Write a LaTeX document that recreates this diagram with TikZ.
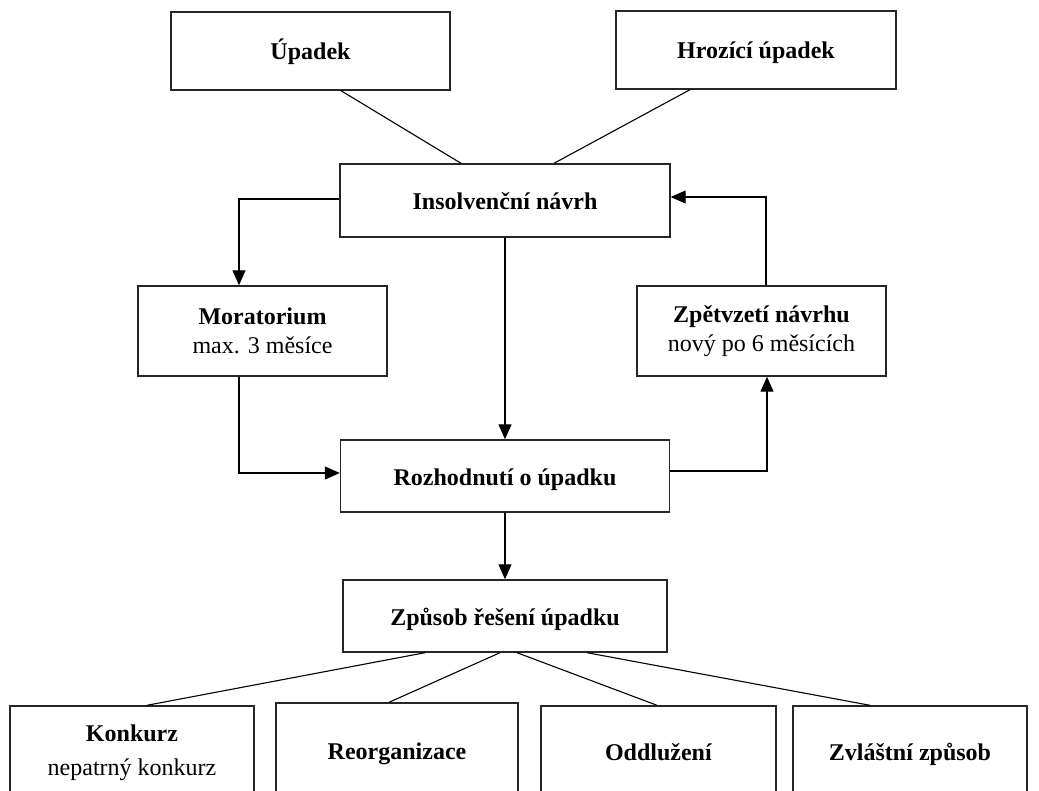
\documentclass[tikz,border=0pt]{standalone}
\usepackage{fontspec}
\setmainfont{Liberation Serif}
\usetikzlibrary{arrows.meta}
\begin{document}
\begin{tikzpicture}[x=1pt,y=-1pt,
  base/.style={draw=black!85, line width=1.4pt, inner sep=0pt, fill=white,
    font=\fontsize{24}{29}\selectfont},
  one/.style={base, text height=20pt, text depth=2pt},
  two/.style={base, align=center},
  conn/.style={draw=black, line width=1.1pt},
  arr/.style={conn, -{Triangle[length=15pt,width=13pt]}}]
\useasboundingbox (0,0) rectangle (1039,791);
\clip (0,0) rectangle (1039,791);
\fill[white] (0,0) rectangle (1039,791);

% boxes
\node[one, minimum width=279pt, minimum height=78pt] (upadek) at (310.5,51) {\textbf{Úpadek}};
\node[one, minimum width=280pt, minimum height=78pt] (hroz) at (756,50) {\textbf{Hrozící úpadek}};
\node[one, minimum width=330pt, minimum height=73pt] (ins) at (505,200.5) {\textbf{Insolvenční návrh}};
\node[two, minimum width=249pt, minimum height=90pt] (mor) at (262.5,331) {\textbf{Moratorium}\\max. 3 měsíce};
\node[two, minimum width=249pt, minimum height=90pt] (zpet) at (761.5,331) {\textbf{Zpětvzetí návrhu}\\nový po 6 měsících};
\node[one, minimum width=329pt, minimum height=72pt] (roz) at (505,476) {\textbf{Rozhodnutí o úpadku}};
\node[one, minimum width=324pt, minimum height=72pt] (zpus) at (505,616) {\textbf{Způsob řešení úpadku}};
\node[two, minimum width=244pt, minimum height=93pt, font=\fontsize{24}{34}\selectfont] (konk) at (132,752.5) {\textbf{Konkurz}\\nepatrný konkurz};
\node[one, minimum width=242pt, minimum height=94pt] (reorg) at (397,750) {\textbf{Reorganizace}};
\node[one, minimum width=235pt, minimum height=90pt] (oddl) at (658.5,751) {\textbf{Oddlužení}};
\node[one, minimum width=234pt, minimum height=90pt] (zvl) at (910,751) {\textbf{Zvláštní způsob}};

% connectors
\draw[conn] ([xshift=30.5pt]upadek.south) -- ([xshift=-44pt]ins.north);
\draw[conn] ([xshift=-66pt]hroz.south) -- ([xshift=49pt]ins.north);
\draw[arr] ([yshift=1.5pt]ins.west) -| ([xshift=-23.5pt]mor.north);
\draw[arr] (ins.south) -- (roz.north);
\draw[arr] ([xshift=-23.5pt]mor.south) |- ([yshift=3pt]roz.west);
\draw[arr] ([yshift=5pt]roz.east) -| ([xshift=5.5pt]zpet.south);
\draw[arr] ([xshift=4.5pt]zpet.north) |- ([yshift=3.5pt]ins.east);
\draw[arr] (roz.south) -- (zpus.north);
\draw[conn] ([xshift=-80pt]zpus.south) -- ([xshift=15pt]konk.north);
\draw[conn] ([xshift=-5pt]zpus.south) -- ([xshift=-8pt]reorg.north);
\draw[conn] ([xshift=12pt]zpus.south) -- ([xshift=-1.5pt]oddl.north);
\draw[conn] ([xshift=82pt]zpus.south) -- ([xshift=-40pt]zvl.north);
\end{tikzpicture}
\end{document}
